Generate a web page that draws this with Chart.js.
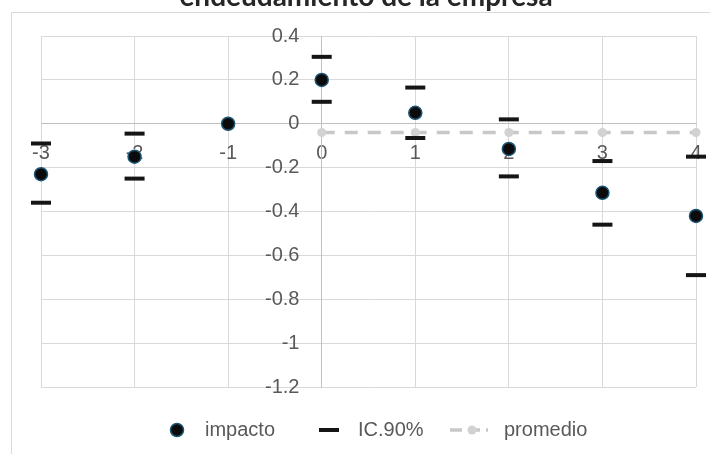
<!DOCTYPE html>
<html>
<head>
<meta charset="utf-8">
<script src="https://cdn.jsdelivr.net/npm/chart.js@4/dist/chart.umd.min.js"></script>
<style>
  html, body { margin: 0; padding: 0; background: #ffffff; }
  #wrap { width: 710px; height: 454px; position: relative; }
</style>
</head>
<body>
<div id="wrap"><canvas id="c" width="710" height="454"></canvas></div>
<script>
// Event-study estimates by period relative to the event
const periods = [-3, -2, -1, 0, 1, 2, 3, 4];
const impacto = [-0.23, -0.15, 0.0, 0.20, 0.05, -0.115, -0.315, -0.42];
const icUpper = [-0.09, -0.045, null, 0.305, 0.165, 0.02, -0.17, -0.15];
const icLower = [-0.36, -0.25, null, 0.10, -0.065, -0.24, -0.46, -0.69];
const promedioPeriods = [0, 1, 2, 3, 4];
const promedio = [-0.04, -0.04, -0.04, -0.04, -0.04];
const seriesNames = ['impacto', 'IC.90%', 'promedio'];
const titleText = 'endeudamiento de la empresa';

const FONT = '"Liberation Sans", Arial, sans-serif';
const TEXT_COLOR = '#595959';
const GRID = '#d9d9d9';

const toPoints = (xs, ys) => xs.map((x, i) => ({ x, y: ys[i] })).filter(p => p.y !== null);

const impactoData = toPoints(periods, impacto);
const icData = toPoints(periods, icUpper).concat(toPoints(periods, icLower));
const promedioData = toPoints(promedioPeriods, promedio);

const styles = {
  impacto: { fill: '#0b0b0b', edge: '#1d5675', radius: 6.5 },
  ic: { color: '#151515', half: 10, width: 4 },
  promedio: { color: '#c8c8c8', point: '#d2d2d2', width: 3.5, dash: [13, 10] }
};

// Tick text: short decimals, with a gap before the vertical axis line
const fmt = v => String(Number(v.toFixed(1)));

// Outer frame, cropped title and custom legend
const decorations = {
  id: 'decorations',
  beforeDraw(chart) {
    const ctx = chart.ctx;
    ctx.save();
    ctx.strokeStyle = GRID;
    ctx.lineWidth = 1;
    ctx.beginPath();
    ctx.moveTo(11.5, 460);
    ctx.lineTo(11.5, 12.5);
    ctx.lineTo(720, 12.5);
    ctx.stroke();

    ctx.fillStyle = '#262626';
    ctx.font = 'bold 28px Lato, "Liberation Sans", sans-serif';
    ctx.textAlign = 'center';
    ctx.textBaseline = 'alphabetic';
    ctx.fillText(titleText, 366, 6);
    ctx.restore();
  },
  afterDraw(chart) {
    const ctx = chart.ctx;
    const ly = 430;
    ctx.save();
    ctx.font = '20px ' + FONT;
    ctx.fillStyle = TEXT_COLOR;
    ctx.textAlign = 'left';
    ctx.textBaseline = 'middle';

    // impacto
    ctx.beginPath();
    ctx.arc(177, ly, styles.impacto.radius, 0, Math.PI * 2);
    ctx.fillStyle = styles.impacto.fill;
    ctx.fill();
    ctx.lineWidth = 1.5;
    ctx.strokeStyle = styles.impacto.edge;
    ctx.stroke();
    ctx.fillStyle = TEXT_COLOR;
    ctx.fillText(seriesNames[0], 205, ly);

    // IC.90%
    ctx.beginPath();
    ctx.moveTo(319, ly);
    ctx.lineTo(339, ly);
    ctx.lineWidth = styles.ic.width;
    ctx.strokeStyle = styles.ic.color;
    ctx.stroke();
    ctx.fillText(seriesNames[1], 358, ly);

    // promedio
    ctx.beginPath();
    ctx.moveTo(450, ly);
    ctx.lineTo(488, ly);
    ctx.setLineDash([12, 6]);
    ctx.lineWidth = styles.promedio.width;
    ctx.strokeStyle = styles.promedio.color;
    ctx.stroke();
    ctx.setLineDash([]);
    ctx.beginPath();
    ctx.arc(472, ly, 4.5, 0, Math.PI * 2);
    ctx.fillStyle = styles.promedio.point;
    ctx.fill();
    ctx.fillStyle = TEXT_COLOR;
    ctx.fillText(seriesNames[2], 504, ly);
    ctx.restore();
  }
};

new Chart(document.getElementById('c'), {
  type: 'scatter',
  data: {
    datasets: [
      {
        label: seriesNames[2],
        type: 'line',
        data: promedioData,
        borderColor: styles.promedio.color,
        borderWidth: styles.promedio.width,
        borderDash: styles.promedio.dash,
        pointRadius: 4.5,
        pointBackgroundColor: styles.promedio.point,
        pointBorderWidth: 0,
        fill: false,
        tension: 0,
        clip: false,
        order: 3
      },
      {
        label: seriesNames[1],
        data: icData,
        pointStyle: 'line',
        pointRadius: styles.ic.half,
        borderColor: styles.ic.color,
        pointBorderWidth: styles.ic.width,
        clip: false,
        order: 2
      },
      {
        label: seriesNames[0],
        data: impactoData,
        pointStyle: 'circle',
        pointRadius: styles.impacto.radius,
        backgroundColor: styles.impacto.fill,
        borderColor: styles.impacto.edge,
        pointBorderWidth: 1.5,
        clip: false,
        order: 1
      }
    ]
  },
  options: {
    responsive: false,
    devicePixelRatio: 1,
    animation: false,
    layout: { padding: { left: 41, right: 13, top: 36, bottom: 67 } },
    plugins: { legend: { display: false }, title: { display: false }, tooltip: { enabled: false } },
    scales: {
      x: {
        type: 'linear',
        min: -3,
        max: 4,
        position: { y: 0 },
        afterFit(scale) { scale.height = 0; scale.paddingLeft = 0; scale.paddingRight = 0; },
        grid: { color: GRID, lineWidth: 1, drawTicks: false },
        border: { display: true, color: '#bfbfbf', width: 1 },
        ticks: { stepSize: 1, padding: 18, color: TEXT_COLOR, font: { family: FONT, size: 20 }, maxRotation: 0, callback: v => fmt(v) }
      },
      y: {
        type: 'linear',
        min: -1.2,
        max: 0.4,
        position: { x: 0 },
        afterFit(scale) { scale.width = 0; scale.paddingTop = 0; scale.paddingBottom = 0; },
        grid: { color: GRID, lineWidth: 1, drawTicks: false },
        border: { display: true, color: '#bfbfbf', width: 1 },
        ticks: { stepSize: 0.2, padding: 22, color: TEXT_COLOR, font: { family: FONT, size: 20 }, callback: v => fmt(v) + '    ' }
      }
    }
  },
  plugins: [decorations]
});
</script>
</body>
</html>
